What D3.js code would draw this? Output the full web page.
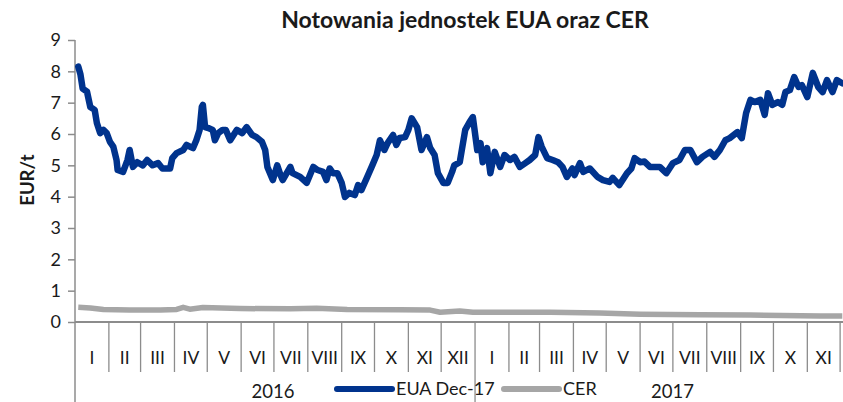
<!DOCTYPE html>
<html>
<head>
<meta charset="utf-8">
<script src="https://cdn.jsdelivr.net/npm/d3@7"></script>
<style>
  body { margin: 0; background: #fff; }
  svg text { font-family: Lato, "Open Sans", sans-serif; fill: #1a1a1a; }
</style>
</head>
<body>
<svg id="chart" width="843" height="402"></svg>
<script>
// notowania EUA Dec-17 (EUR/t)
const euaDates = [
  "2016-01-04","2016-01-06","2016-01-08","2016-01-12","2016-01-15","2016-01-19","2016-01-21","2016-01-24","2016-01-27","2016-01-30",
  "2016-02-02","2016-02-05","2016-02-08","2016-02-09","2016-02-14","2016-02-18","2016-02-20","2016-02-23","2016-02-27",
  "2016-03-03","2016-03-07","2016-03-12","2016-03-17","2016-03-21","2016-03-28","2016-03-30",
  "2016-04-03","2016-04-09","2016-04-12","2016-04-18","2016-04-21","2016-04-24","2016-04-26","2016-04-27","2016-04-29",
  "2016-05-02","2016-05-06","2016-05-08","2016-05-11","2016-05-15","2016-05-18","2016-05-22","2016-05-28",
  "2016-06-02","2016-06-06","2016-06-11","2016-06-15","2016-06-20","2016-06-23","2016-06-25","2016-06-30",
  "2016-07-04","2016-07-07","2016-07-09","2016-07-16","2016-07-18","2016-07-25","2016-07-31",
  "2016-08-06","2016-08-10","2016-08-15","2016-08-18","2016-08-21","2016-08-24","2016-08-28",
  "2016-09-01","2016-09-04","2016-09-08","2016-09-13","2016-09-16","2016-09-19","2016-09-24","2016-09-29",
  "2016-10-03","2016-10-06","2016-10-10","2016-10-13","2016-10-18","2016-10-21","2016-10-24","2016-10-29",
  "2016-11-01","2016-11-04","2016-11-09","2016-11-13","2016-11-18","2016-11-21","2016-11-25","2016-11-28",
  "2016-12-03","2016-12-07","2016-12-11","2016-12-13","2016-12-18","2016-12-23","2016-12-27","2016-12-30",
  "2017-01-03","2017-01-06","2017-01-08","2017-01-12","2017-01-15","2017-01-19","2017-01-24","2017-01-28",
  "2017-02-02","2017-02-06","2017-02-11","2017-02-16","2017-02-20","2017-02-25","2017-02-28",
  "2017-03-03","2017-03-08","2017-03-13","2017-03-18","2017-03-22","2017-03-26","2017-03-31",
  "2017-04-02","2017-04-07","2017-04-10","2017-04-16","2017-04-23","2017-04-28",
  "2017-05-04","2017-05-07","2017-05-13","2017-05-20","2017-05-24","2017-05-27",
  "2017-06-01","2017-06-05","2017-06-10","2017-06-19","2017-06-25",
  "2017-07-01","2017-07-07","2017-07-12","2017-07-17","2017-07-23","2017-07-28",
  "2017-08-04","2017-08-08","2017-08-13","2017-08-18","2017-08-22","2017-08-29",
  "2017-09-02","2017-09-06","2017-09-10","2017-09-14","2017-09-19","2017-09-23","2017-09-26","2017-09-30",
  "2017-10-05","2017-10-09","2017-10-12","2017-10-16","2017-10-20","2017-10-24","2017-10-27",
  "2017-11-01","2017-11-06","2017-11-11","2017-11-15","2017-11-19","2017-11-24","2017-11-28","2017-12-03"
]
const euaValues = [
  8.15,7.9,7.45,7.35,6.86,6.77,6.35,6.03,6.13,6.03,
  5.75,5.6,5.17,4.85,4.79,5.17,5.49,4.95,5.1,
  5.0,5.17,5.0,5.07,4.9,4.9,5.23,
  5.39,5.49,5.65,5.55,5.8,6.13,6.86,6.93,6.22,
  6.19,6.13,5.8,6.03,6.13,6.13,5.8,6.13,
  6.03,6.22,5.97,5.9,5.75,5.49,4.95,4.53,
  5.0,4.69,4.53,4.95,4.75,4.63,4.44,
  4.95,4.85,4.79,4.53,4.9,4.75,4.75,
  4.44,3.99,4.12,4.05,4.37,4.21,4.6,5.0,
  5.33,5.8,5.49,5.71,5.97,5.65,5.87,5.9,
  6.13,6.5,6.22,5.49,5.9,5.55,5.33,4.75,
  4.44,4.44,4.79,5.0,5.1,6.13,6.38,6.54,
  5.49,5.71,5.1,5.55,4.75,5.43,4.95,5.33,
  5.17,5.27,4.95,5.07,5.17,5.33,5.9,
  5.59,5.23,5.17,5.1,4.95,4.63,4.9,
  4.69,5.07,4.79,4.9,4.63,4.53,
  4.47,4.6,4.37,4.75,4.9,5.23,
  5.1,5.12,4.95,4.95,4.75,
  5.07,5.17,5.49,5.49,5.1,5.27,
  5.43,5.27,5.49,5.8,5.87,6.06,
  5.87,6.67,7.09,7.02,7.09,6.61,7.3,6.93,
  7.02,6.93,7.34,7.4,7.82,7.5,7.56,
  7.18,7.95,7.5,7.34,7.72,7.34,7.72,7.62
]

// notowania CER (EUR/t)
const cerDates = [
  "2016-01-04","2016-01-15","2016-01-27","2016-02-20","2016-03-19","2016-04-03","2016-04-09","2016-04-15","2016-04-27",
  "2016-05-31","2016-07-16","2016-08-09","2016-09-06","2016-10-24","2016-11-21","2016-11-30","2016-12-18","2016-12-30",
  "2017-03-11","2017-04-25","2017-06-01","2017-07-26","2017-09-10","2017-11-13","2017-12-03"
]
const cerValues = [
  0.47,0.45,0.40,0.38,0.38,0.40,0.47,0.41,0.46,
  0.43,0.42,0.44,0.40,0.39,0.38,0.31,0.35,0.31,
  0.31,0.29,0.25,0.23,0.22,0.19,0.19
]

const monthLabels = ["I","II","III","IV","V","VI","VII","VIII","IX","X","XI","XII"]
const years = ["2016", "2017"]
const yTicks = [0,1,2,3,4,5,6,7,8,9]

const title = "Notowania jednostek EUA oraz CER"
const yTitle = "EUR/t"
const seriesNames = ["EUA Dec-17", "CER"]
const colors = ["#00338d", "#a6a6a6"]

const margin = { left: 75, top: 40, right: -31, bottom: 80 }
const width = 843, height = 402
const plotBottom = height - margin.bottom

const svg = d3.select("#chart")
const parse = d3.timeParse("%Y-%m-%d")

const xScale = d3.scaleTime()
  .domain([new Date(2016, 0, 1), new Date(2018, 0, 1)])
  .range([margin.left, width - margin.right])
const yScale = d3.scaleLinear().domain([0, 9]).range([plotBottom, margin.top])

const axisColor = "#8c8c8c"

// os Y
svg.append("line")
  .attr("x1", margin.left).attr("x2", margin.left)
  .attr("y1", margin.top).attr("y2", height)
  .attr("stroke", axisColor).attr("stroke-width", 1.5)

let yAxis = svg.append("g")
  .attr("transform", "translate(" + margin.left + ",0)")
  .call(d3.axisLeft(yScale).tickValues(yTicks).tickFormat(d3.format("d")).tickSize(7).tickPadding(7))
yAxis.select(".domain").remove()
yAxis.selectAll("line").attr("stroke", axisColor).attr("stroke-width", 1.5)
yAxis.selectAll("text").style("font-size", "18px").style("font-family", "Lato, sans-serif").attr("fill", "#1a1a1a")

// os X - miesiace i lata
svg.append("line")
  .attr("x1", margin.left).attr("x2", width)
  .attr("y1", plotBottom).attr("y2", plotBottom)
  .attr("stroke", axisColor).attr("stroke-width", 2)

const monthStarts = d3.timeMonth.range(new Date(2016, 0, 1), new Date(2018, 0, 1))
monthStarts.forEach(function (m, i) {
  let x0 = xScale(m)
  let x1 = xScale(d3.timeMonth.offset(m, 1))
  let isYear = m.getMonth() == 0
  if (i > 0) {
    svg.append("line")
      .attr("x1", x0).attr("x2", x0)
      .attr("y1", plotBottom).attr("y2", isYear ? height : plotBottom + 50)
      .attr("stroke", axisColor).attr("stroke-width", 1.3)
  }
  svg.append("text")
    .attr("x", (x0 + x1) / 2)
    .attr("y", 364)
    .attr("text-anchor", "middle")
    .style("font-size", "17.5px")
    .text(monthLabels[m.getMonth()])
})

years.forEach(function (y) {
  let x0 = xScale(new Date(+y, 0, 1))
  let x1 = xScale(new Date(+y + 1, 0, 1))
  svg.append("text")
    .attr("x", (x0 + x1) / 2 - 2)
    .attr("y", 398)
    .attr("text-anchor", "middle")
    .style("font-size", "18.5px")
    .text(y)
})

// linie danych
const line = d3.line()
  .x(d => xScale(d.date))
  .y(d => yScale(d.value))
  .curve(d3.curveLinear)

const cerData = cerDates.map((d, i) => ({ date: parse(d), value: cerValues[i] }))
const euaData = euaDates.map((d, i) => ({ date: parse(d), value: euaValues[i] }))

svg.append("path")
  .datum(cerData)
  .attr("d", line)
  .attr("fill", "none")
  .attr("stroke", colors[1])
  .attr("stroke-width", 5.5)
  .attr("stroke-linejoin", "round")

svg.append("path")
  .datum(euaData)
  .attr("d", line)
  .attr("fill", "none")
  .attr("stroke", colors[0])
  .attr("stroke-width", 6.5)
  .attr("stroke-linejoin", "round")
  .attr("stroke-linecap", "round")

// tytul - dopasowanie szerokosci
let titleText = svg.append("text")
  .attr("x", 465)
  .attr("y", 28)
  .attr("text-anchor", "middle")
  .style("font-size", "18px")
  .style("font-weight", "bold")
  .text(title)
let tw = titleText.node().getComputedTextLength()
titleText.style("font-size", (18 * 368 / tw) + "px")

svg.append("text")
  .attr("transform", "translate(34," + 180 + ") rotate(-90)")
  .attr("text-anchor", "middle")
  .style("font-size", "18.5px")
  .style("font-weight", "bold")
  .text(yTitle)

// legenda
const legendItems = [
  { x: 337, name: seriesNames[0], color: colors[0] },
  { x: 504, name: seriesNames[1], color: colors[1] }
]
legendItems.forEach(function (d) {
  svg.append("line")
    .attr("x1", d.x).attr("x2", d.x + 55)
    .attr("y1", 389).attr("y2", 389)
    .attr("stroke", d.color).attr("stroke-width", 6)
    .attr("stroke-linecap", "round")
  svg.append("text")
    .attr("x", d.x + 59)
    .attr("y", 395)
    .style("font-size", "18px")
    .text(d.name)
})
</script>
</body>
</html>
